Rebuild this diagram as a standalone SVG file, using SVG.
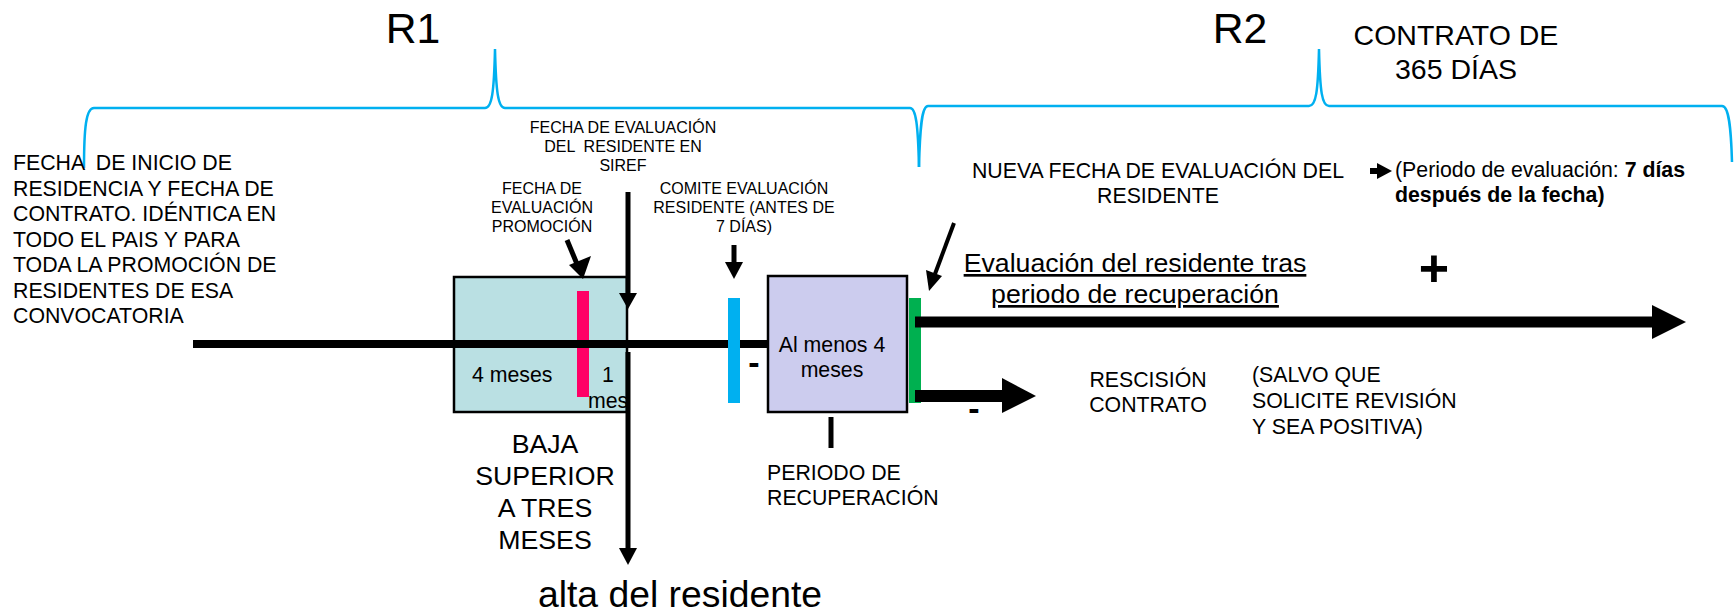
<svg xmlns="http://www.w3.org/2000/svg" width="1734" height="616" viewBox="0 0 1734 616">
<style>
text{font-family:"Liberation Sans",Arial,sans-serif;fill:#000;white-space:pre}
.t16{font-size:16px}
.t21{font-size:21.3px}
.t27{font-size:26.7px}
.mid{text-anchor:middle}
.brace{fill:none;stroke:#00b0f0;stroke-width:2.5}
.thick{stroke:#000;stroke-width:5;fill:none}
.box{stroke:#000;stroke-width:2.5}
</style>
<rect width="1734" height="616" fill="#fff"/>

<g id="braces">
<path class="brace" d="M84,168 C84,128 86,108 94,108 L485,108 C492,108 494,92 495,49 C496,92 498,108 505,108 L910,108 C916,108 918,125 919,167"/>
<path class="brace" d="M919,167 C920,125 922,106 928,106 L1309,106 C1316,106 1318,92 1319,49 C1320,92 1322,106 1329,106 L1722,106 C1729,106 1731,128 1732,162"/>
</g>

<g id="headers">
<text x="413" y="43" class="mid" font-size="42.7">R1</text>
<text x="1240" y="43" class="mid" font-size="42.7">R2</text>
<text class="mid" font-size="28.5"><tspan x="1456" y="45">CONTRATO DE</tspan><tspan x="1456" y="79">365 DÍAS</tspan></text>
</g>

<g id="inicio-label">
<text class="t21"><tspan x="13" y="170">FECHA  DE INICIO DE</tspan><tspan x="13" y="196">RESIDENCIA Y FECHA DE</tspan><tspan x="13" y="221">CONTRATO. IDÉNTICA EN</tspan><tspan x="13" y="247">TODO EL PAIS Y PARA</tspan><tspan x="13" y="272">TODA LA PROMOCIÓN DE</tspan><tspan x="13" y="298">RESIDENTES DE ESA</tspan><tspan x="13" y="323">CONVOCATORIA</tspan></text>
</g>

<g id="box-baja">
<rect class="box" x="454" y="277" width="173" height="135" fill="#bae0e3"/>
<text x="472" y="382" class="t21">4 meses</text>
<text x="608" y="382" class="t21 mid">1</text>
<text x="588" y="408" class="t21">mes</text>
</g>

<g id="box-recuperacion">
<rect class="box" x="768" y="276" width="139" height="136" fill="#ccccee"/>
<text class="t21 mid"><tspan x="832" y="352">Al menos 4</tspan><tspan x="832" y="377">meses</tspan></text>
</g>

<g id="connectors">
<line x1="193" y1="344" x2="768" y2="344" stroke="#000" stroke-width="8"/>
<rect x="577" y="291" width="12" height="106" fill="#ff0066"/>
<line x1="577" y1="344" x2="589" y2="344" stroke="#000" stroke-width="8"/>
<rect x="728" y="298" width="12" height="105" fill="#00b0f0"/>
<rect x="909" y="298" width="12" height="105" fill="#00b050"/>
<line x1="628" y1="192" x2="628" y2="294" stroke="#000" stroke-width="5"/>
<polygon points="619,293 637,293 628,309" fill="#000"/>
<line x1="628" y1="352" x2="628" y2="549" stroke="#000" stroke-width="5"/>
<polygon points="619,548 637,548 628,565" fill="#000"/>
<line x1="567" y1="240" x2="577" y2="264" stroke="#000" stroke-width="5"/>
<polygon points="569,265 591,256 583,279" fill="#000"/>
<line x1="734" y1="245" x2="734" y2="263" stroke="#000" stroke-width="5"/>
<polygon points="725,262 743,262 734,279" fill="#000"/>
<line x1="954" y1="223" x2="935" y2="274" stroke="#000" stroke-width="4"/>
<polygon points="926,270 942,276 929,291" fill="#000"/>
<line x1="831" y1="417" x2="831" y2="448" stroke="#000" stroke-width="5"/>
<rect x="915" y="316.5" width="738" height="11" fill="#000"/>
<polygon points="1652,305 1686,322 1652,339" fill="#000"/>
<rect x="915" y="390" width="88" height="12" fill="#000"/>
<polygon points="1002,378 1036,396 1002,413" fill="#000"/>
<rect x="1370" y="168" width="10" height="6" fill="#000"/>
<polygon points="1377,163 1392,171 1377,179" fill="#000"/>
</g>

<g id="siref-label">
<text class="t16 mid"><tspan x="623" y="133">FECHA DE EVALUACIÓN</tspan><tspan x="623" y="152">DEL  RESIDENTE EN</tspan><tspan x="623" y="171">SIREF</tspan></text>
</g>
<g id="promocion-label">
<text class="t16 mid"><tspan x="542" y="194">FECHA DE</tspan><tspan x="542" y="213">EVALUACIÓN</tspan><tspan x="542" y="232">PROMOCIÓN</tspan></text>
</g>
<g id="comite-label">
<text class="t16 mid"><tspan x="744" y="194">COMITE EVALUACIÓN</tspan><tspan x="744" y="213">RESIDENTE (ANTES DE</tspan><tspan x="744" y="232">7 DÍAS)</tspan></text>
</g>
<g id="minus-1"><text x="754" y="374" class="mid" font-size="34" font-weight="bold">-</text></g>

<g id="nueva-label">
<text class="t21 mid"><tspan x="1158" y="178">NUEVA FECHA DE EVALUACIÓN DEL</tspan><tspan x="1158" y="203">RESIDENTE</tspan></text>
</g>
<g id="periodo-label">
<text class="t21"><tspan x="1395" y="177">(Periodo de evaluación: <tspan font-weight="bold">7 días</tspan></tspan><tspan x="1395" y="202" font-weight="bold">después de la fecha)</tspan></text>
</g>
<g id="evaluacion-label">
<text class="t27 mid" text-decoration="underline"><tspan x="1135" y="272">Evaluación del residente tras</tspan><tspan x="1135" y="303">periodo de recuperación</tspan></text>
</g>
<g id="plus"><text x="1434" y="286" class="mid" font-size="52" font-weight="bold">+</text></g>

<g id="minus-2"><text x="974" y="420" class="mid" font-size="34" font-weight="bold">-</text></g>
<g id="rescision-label">
<text class="t21 mid"><tspan x="1148" y="387">RESCISIÓN</tspan><tspan x="1148" y="412">CONTRATO</tspan></text>
</g>
<g id="salvo-label">
<text class="t21"><tspan x="1252" y="382">(SALVO QUE</tspan><tspan x="1252" y="408">SOLICITE REVISIÓN</tspan><tspan x="1252" y="434">Y SEA POSITIVA)</tspan></text>
</g>

<g id="recuperacion-label">
<text class="t21"><tspan x="767" y="480">PERIODO DE</tspan><tspan x="767" y="505">RECUPERACIÓN</tspan></text>
</g>
<g id="baja-label">
<text class="t27 mid"><tspan x="545" y="453">BAJA</tspan><tspan x="545" y="485">SUPERIOR</tspan><tspan x="545" y="517">A TRES</tspan><tspan x="545" y="549">MESES</tspan></text>
</g>
<g id="alta-label">
<text x="680" y="607" class="mid" font-size="37.3">alta del residente</text>
</g>
</svg>
